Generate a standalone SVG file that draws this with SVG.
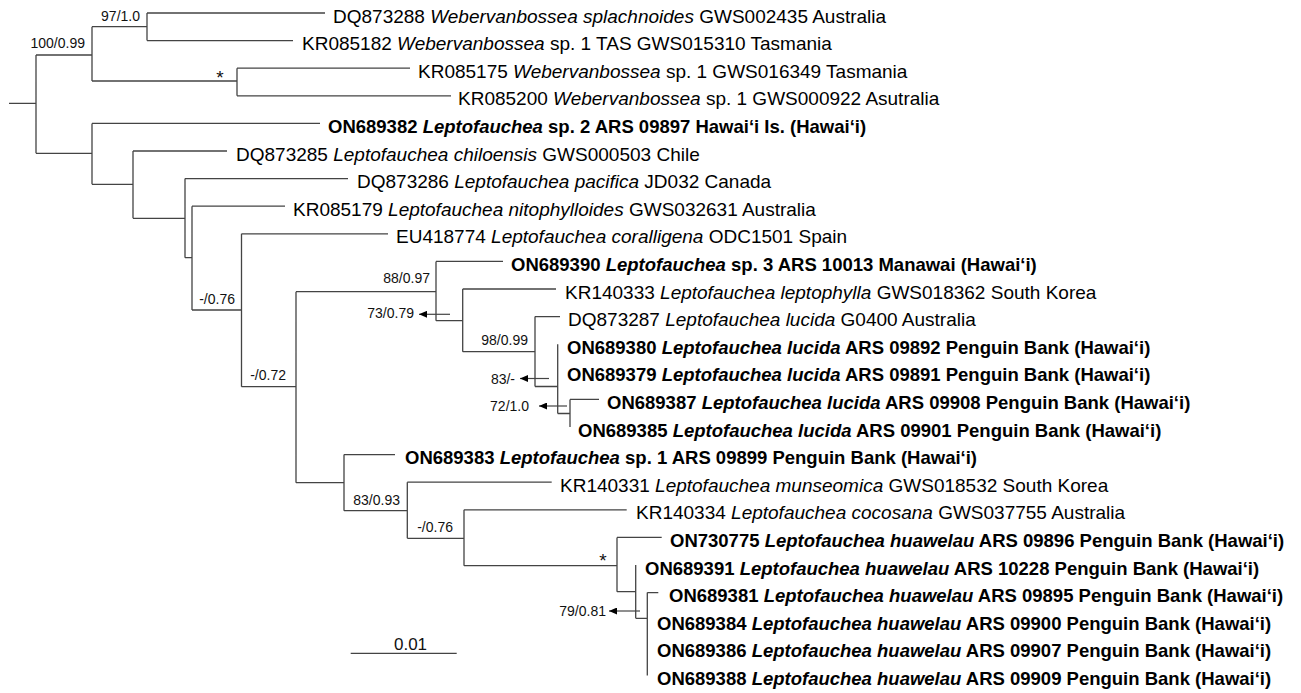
<svg xmlns="http://www.w3.org/2000/svg" width="1301" height="693" viewBox="0 0 1301 693">
<defs>
<style>
.tx{font-family:"Liberation Sans",Arial,sans-serif;font-size:19px;fill:#000}
.bd{font-weight:bold;font-size:18.5px}
.it{font-style:italic}
.lb{font-family:"Liberation Sans",Arial,sans-serif;font-size:14px;fill:#111}
.st{font-family:"Liberation Sans",Arial,sans-serif;font-size:19px;fill:#111}
.br{fill:none;stroke:#444;stroke-width:1.3}
.ar{fill:none;stroke:#444;stroke-width:1.2}
</style>
<marker id="ah" markerUnits="userSpaceOnUse" markerWidth="8" markerHeight="7" refX="8" refY="3.5" orient="auto">
<path d="M0,0 L8,3.5 L0,7 z" fill="#000"/>
</marker>
</defs>
<rect width="1301" height="693" fill="#fff"/>
<g id="connectors">
<path class="br" d="M9 103.3H36M36 55V153.3M36 55H92M36 153.3H92
M92 26.7V81M92 26.7H147M92 81H237
M147 13V40.6M147 13H325M147 40.6H293
M237 68.2V95.8M237 68.2H410M237 95.8H451
M92 123.4V184.3M92 123.4H320M92 184.3H133
M133 151V218.3M133 151H227M133 218.3H185
M185 178.6V257.7M185 178.6H348M185 257.7H192
M192 206.2V310M192 206.2H285M192 310H241.5
M241.5 233.8V386.7M241.5 233.8H388M241.5 386.7H296
M296 291.7V482.7M296 291.7H436M296 482.7H344
M436 261.4V320.7M436 261.4H503M436 320.7H462.7
M462.7 289V351.7M462.7 289H556M462.7 351.7H535
M535 316.6V386.5M535 316.6H560M535 386.5H557.7
M557.7 344.2V413.5M557.7 413.5H570
M570 399.4V427M570 399.4H599
M344 454.6V510.7M344 454.6H395M344 510.7H407.3
M407.3 482.2V538.3M407.3 482.2H551.7M407.3 538.3H464
M464 509.8V565.7M464 509.8H626.7M464 565.7H617
M617 537.4V591.7M617 537.4H661.7M617 591.7H635.7
M635.7 565V618.3M635.7 618.3H647.3
M647.3 592.6V675.4M647.3 592.6H658.3"/>
<path class="ar" d="M450 314.3H419" marker-end="url(#ah)"/>
<path class="ar" d="M549 378.5H520" marker-end="url(#ah)"/>
<path class="ar" d="M567 406H539" marker-end="url(#ah)"/>
<path class="ar" d="M640 611H609" marker-end="url(#ah)"/>
<path class="br" d="M350.7 653.3H456.7"/>
</g>
<g id="taxa">
<g id="t0"><text class="tx" x="333" y="22.5">DQ873288 <tspan class="it">Webervanbossea splachnoides</tspan> GWS002435 Australia</text></g>
<g id="t1"><text class="tx" x="302" y="50.1">KR085182 <tspan class="it">Webervanbossea</tspan> sp. 1 TAS GWS015310 Tasmania</text></g>
<g id="t2"><text class="tx" x="418" y="77.7">KR085175 <tspan class="it">Webervanbossea</tspan> sp. 1 GWS016349 Tasmania</text></g>
<g id="t3"><text class="tx" x="458" y="105.3">KR085200 <tspan class="it">Webervanbossea</tspan> sp. 1 GWS000922 Asutralia</text></g>
<g id="t4"><text class="tx bd" x="328" y="132.9">ON689382 <tspan class="it">Leptofauchea</tspan> sp. 2 ARS 09897 Hawai‘i Is. (Hawai‘i)</text></g>
<g id="t5"><text class="tx" x="236" y="160.5">DQ873285 <tspan class="it">Leptofauchea chiloensis</tspan> GWS000503 Chile</text></g>
<g id="t6"><text class="tx" x="357" y="188.1">DQ873286 <tspan class="it">Leptofauchea pacifica</tspan> JD032 Canada</text></g>
<g id="t7"><text class="tx" x="293" y="215.7">KR085179 <tspan class="it">Leptofauchea nitophylloides</tspan> GWS032631 Australia</text></g>
<g id="t8"><text class="tx" x="396" y="243.3">EU418774 <tspan class="it">Leptofauchea coralligena</tspan> ODC1501 Spain</text></g>
<g id="t9"><text class="tx bd" x="511" y="270.9">ON689390 <tspan class="it">Leptofauchea</tspan> sp. 3 ARS 10013 Manawai (Hawai‘i)</text></g>
<g id="t10"><text class="tx" x="565" y="298.5">KR140333 <tspan class="it">Leptofauchea leptophylla</tspan> GWS018362 South Korea</text></g>
<g id="t11"><text class="tx" x="568" y="326.1">DQ873287 <tspan class="it">Leptofauchea lucida</tspan> G0400 Australia</text></g>
<g id="t12"><text class="tx bd" x="567" y="353.7">ON689380 <tspan class="it">Leptofauchea lucida</tspan> ARS 09892 Penguin Bank (Hawai‘i)</text></g>
<g id="t13"><text class="tx bd" x="567" y="381.3">ON689379 <tspan class="it">Leptofauchea lucida</tspan> ARS 09891 Penguin Bank (Hawai‘i)</text></g>
<g id="t14"><text class="tx bd" x="607" y="408.9">ON689387 <tspan class="it">Leptofauchea lucida</tspan> ARS 09908 Penguin Bank (Hawai‘i)</text></g>
<g id="t15"><text class="tx bd" x="578" y="436.5">ON689385 <tspan class="it">Leptofauchea lucida</tspan> ARS 09901 Penguin Bank (Hawai‘i)</text></g>
<g id="t16"><text class="tx bd" x="405" y="464.1">ON689383 <tspan class="it">Leptofauchea</tspan> sp. 1 ARS 09899 Penguin Bank (Hawai‘i)</text></g>
<g id="t17"><text class="tx" x="560" y="491.7">KR140331 <tspan class="it">Leptofauchea munseomica</tspan> GWS018532 South Korea</text></g>
<g id="t18"><text class="tx" x="636" y="519.3">KR140334 <tspan class="it">Leptofauchea cocosana</tspan> GWS037755 Australia</text></g>
<g id="t19"><text class="tx bd" x="670" y="546.9">ON730775 <tspan class="it">Leptofauchea huawelau</tspan> ARS 09896 Penguin Bank (Hawai‘i)</text></g>
<g id="t20"><text class="tx bd" x="645" y="574.5">ON689391 <tspan class="it">Leptofauchea huawelau</tspan> ARS 10228 Penguin Bank (Hawai‘i)</text></g>
<g id="t21"><text class="tx bd" x="669" y="602.1">ON689381 <tspan class="it">Leptofauchea huawelau</tspan> ARS 09895 Penguin Bank (Hawai‘i)</text></g>
<g id="t22"><text class="tx bd" x="657" y="629.7">ON689384 <tspan class="it">Leptofauchea huawelau</tspan> ARS 09900 Penguin Bank (Hawai‘i)</text></g>
<g id="t23"><text class="tx bd" x="657" y="657.3">ON689386 <tspan class="it">Leptofauchea huawelau</tspan> ARS 09907 Penguin Bank (Hawai‘i)</text></g>
<g id="t24"><text class="tx bd" x="657" y="684.9">ON689388 <tspan class="it">Leptofauchea huawelau</tspan> ARS 09909 Penguin Bank (Hawai‘i)</text></g>
</g>
<g id="support">
<text class="lb" x="140" y="21" text-anchor="end">97/1.0</text>
<text class="lb" x="85" y="48" text-anchor="end">100/0.99</text>
<text class="st" x="220" y="84" text-anchor="middle">*</text>
<text class="lb" x="430" y="283" text-anchor="end">88/0.97</text>
<text class="lb" x="414" y="318" text-anchor="end">73/0.79</text>
<text class="lb" x="528" y="345" text-anchor="end">98/0.99</text>
<text class="lb" x="515" y="384" text-anchor="end">83/-</text>
<text class="lb" x="529" y="411" text-anchor="end">72/1.0</text>
<text class="lb" x="235" y="304" text-anchor="end">-/0.76</text>
<text class="lb" x="286" y="380" text-anchor="end">-/0.72</text>
<text class="lb" x="400" y="505" text-anchor="end">83/0.93</text>
<text class="lb" x="453" y="532" text-anchor="end">-/0.76</text>
<text class="st" x="603" y="567" text-anchor="middle">*</text>
<text class="lb" x="606" y="616" text-anchor="end">79/0.81</text>
</g>
<g id="scale">
<text class="lb" x="410.5" y="650" text-anchor="middle" style="font-size:17px">0.01</text>
</g>
</svg>
